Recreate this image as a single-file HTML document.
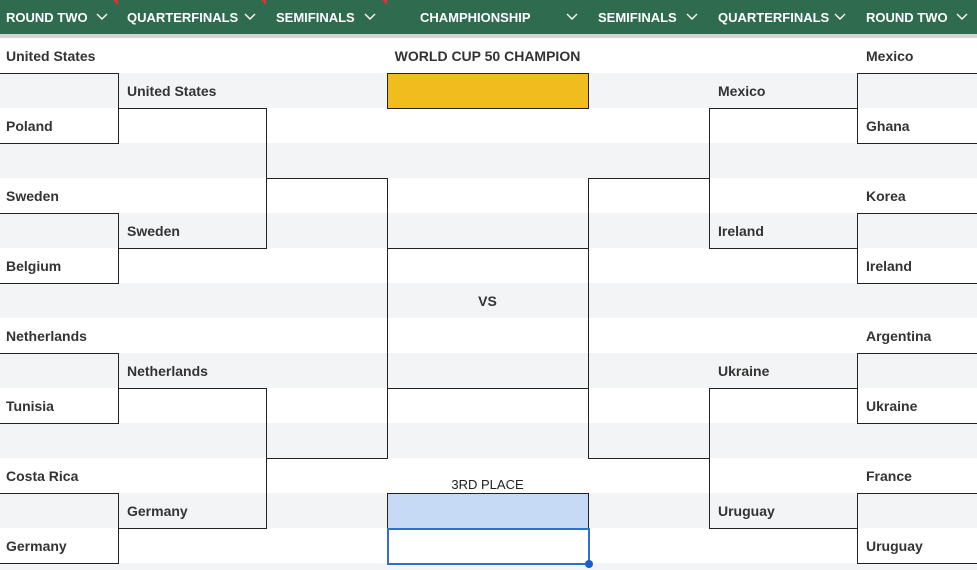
<!DOCTYPE html>
<html><head><style>
html,body{margin:0;width:977px;height:570px;overflow:hidden}
body{background:#fff;font-family:"Liberation Sans",Arial,sans-serif;position:relative}
.hdr{position:absolute;left:0;top:0;width:977px;height:34px;background:#2f6b4f}
.strip{position:absolute;left:0;top:34px;width:977px;height:4px;background:#d4d4d4}
.row{position:absolute;left:0;width:977px;height:35px}
.g{background:#f3f4f6}
.h{position:absolute;top:10px;color:#fff;font-weight:bold;font-size:13px}
.c{position:absolute;top:13px}
.t{position:absolute;font-weight:bold;font-size:14px;color:#333;line-height:35px;margin-top:1px}
.tri{position:absolute;top:0;width:0;height:0;border-left:5px solid transparent;border-top:5px solid #d33}
</style></head><body>
<div class="hdr"></div><div class="strip"></div>
<div class="h" style="left:6px">ROUND TWO</div>
<div class="h" style="left:127px">QUARTERFINALS</div>
<div class="h" style="left:276px">SEMIFINALS</div>
<div class="h" style="left:420px">CHAMPHIONSHIP</div>
<div class="h" style="left:598px">SEMIFINALS</div>
<div class="h" style="left:718px">QUARTERFINALS</div>
<div class="h" style="left:866px">ROUND TWO</div>
<svg width="977" height="34" style="position:absolute;left:0;top:0" stroke="#fff" stroke-width="1.4" fill="none">
<path d="M97 14l5 5 5-5M245 14l5 5 5-5M365 14l5 5 5-5M567 14l5 5 5-5M687 14l5 5 5-5M835 14l5 5 5-5M957 14l5 5 5-5"/>
</svg>
<div class="tri" style="left:113px"></div><div class="tri" style="left:261px"></div><div class="tri" style="left:382px"></div>
<div class="row g" style="top:73px"></div><div class="row g" style="top:143px"></div><div class="row g" style="top:213px"></div><div class="row g" style="top:283px"></div><div class="row g" style="top:353px"></div><div class="row g" style="top:423px"></div><div class="row g" style="top:493px"></div><div class="row g" style="top:563px"></div>
<div style="position:absolute;left:387px;top:73px;width:200px;height:34px;background:#f1bc1e;border:1px solid #222"></div>
<div style="position:absolute;left:387px;top:493px;width:200px;height:34px;background:#c6d9f5;border:1px solid #222"></div>
<div style="position:absolute;left:387px;top:528px;width:199px;height:33px;border:2px solid #2f6fd0;background:#fff"></div>
<div style="position:absolute;left:585px;top:560px;width:8px;height:8px;border-radius:50%;background:#1a5fd0"></div>
<svg width="977" height="570" style="position:absolute;left:0;top:0" stroke="#222" stroke-width="1" fill="none" shape-rendering="crispEdges">
<path d="M0 73.5H118.5V143.5H0M0 213.5H118.5V283.5H0M0 353.5H118.5V423.5H0M0 493.5H118.5V563.5H0"/>
<path d="M118 108.5H266.5V248.5H118M118 388.5H266.5V528.5H118"/>
<path d="M266 178.5H387.5V458.5H266"/>
<path d="M977 73.5H857.5V143.5H977M977 213.5H857.5V283.5H977M977 353.5H857.5V423.5H977M977 493.5H857.5V563.5H977"/>
<path d="M857 108.5H709.5V248.5H857M857 388.5H709.5V528.5H857"/>
<path d="M709 178.5H588.5V458.5H709"/>
<path d="M387 248.5H588M387 388.5H588"/>
</svg>
<div class="t" style="left:6px;top:38px">United States</div>
<div class="t" style="left:6px;top:108px">Poland</div>
<div class="t" style="left:6px;top:178px">Sweden</div>
<div class="t" style="left:6px;top:248px">Belgium</div>
<div class="t" style="left:6px;top:318px">Netherlands</div>
<div class="t" style="left:6px;top:388px">Tunisia</div>
<div class="t" style="left:6px;top:458px">Costa Rica</div>
<div class="t" style="left:6px;top:528px">Germany</div>
<div class="t" style="left:127px;top:73px">United States</div>
<div class="t" style="left:127px;top:213px">Sweden</div>
<div class="t" style="left:127px;top:353px">Netherlands</div>
<div class="t" style="left:127px;top:493px">Germany</div>
<div class="t" style="left:866px;top:38px">Mexico</div>
<div class="t" style="left:866px;top:108px">Ghana</div>
<div class="t" style="left:866px;top:178px">Korea</div>
<div class="t" style="left:866px;top:248px">Ireland</div>
<div class="t" style="left:866px;top:318px">Argentina</div>
<div class="t" style="left:866px;top:388px">Ukraine</div>
<div class="t" style="left:866px;top:458px">France</div>
<div class="t" style="left:866px;top:528px">Uruguay</div>
<div class="t" style="left:718px;top:73px">Mexico</div>
<div class="t" style="left:718px;top:213px">Ireland</div>
<div class="t" style="left:718px;top:353px">Ukraine</div>
<div class="t" style="left:718px;top:493px">Uruguay</div>
<div class="t" style="left:387px;width:201px;text-align:center;top:38px">WORLD CUP 50 CHAMPION</div>
<div class="t" style="left:387px;width:201px;text-align:center;top:283px">VS</div>
<div class="t" style="left:387px;width:201px;text-align:center;top:466px;font-size:13px;font-weight:normal;color:#222">3RD PLACE</div>
</body></html>
